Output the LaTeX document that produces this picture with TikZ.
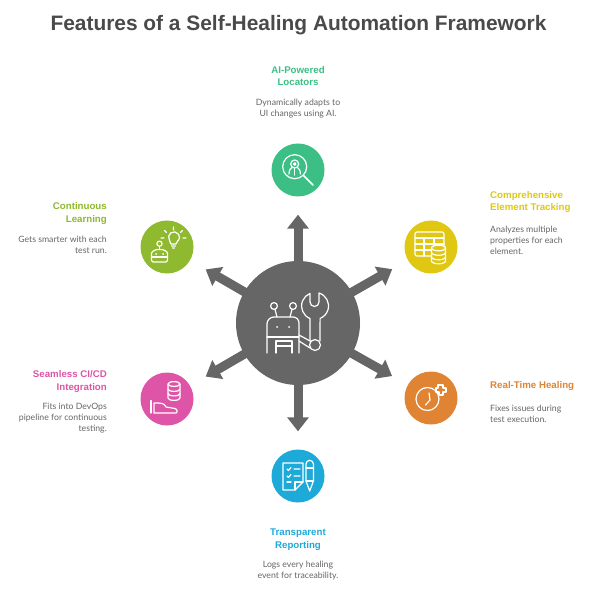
\documentclass[tikz,border=0pt]{standalone}
\usepackage{fontspec}
\setmainfont{Liberation Sans}
\newfontfamily\descfont{Lato}
\usetikzlibrary{arrows.meta}
\definecolor{hubc}{HTML}{666666}
\definecolor{titlec}{HTML}{4A4A4A}
\definecolor{descc}{HTML}{666666}
\definecolor{cgreen}{HTML}{3CBF85}
\definecolor{cyellow}{HTML}{E0C812}
\definecolor{corange}{HTML}{E08433}
\definecolor{cblue}{HTML}{1EAAD9}
\definecolor{cpink}{HTML}{DE55A8}
\definecolor{clime}{HTML}{8FB92E}
\tikzset{
  hubnode/.style={circle,fill=hubc,minimum size=124pt,inner sep=0pt},
  satnode/.style={circle,fill=#1,minimum size=53pt,inner sep=0pt},
  spoke/.style={hubc,line width=9pt,shorten >=18pt,-{Triangle[width=21pt,length=14pt]}},
  head/.style={font=\fontsize{9.7}{12.6}\selectfont\bfseries,inner sep=0pt,text=#1},
  desc/.style={font=\descfont\fontsize{8.7}{11}\selectfont,inner sep=0pt,text=descc},
  icon/.style={white,line width=1.2pt,line cap=round,line join=round},
}
\begin{document}
\begin{tikzpicture}[x=1pt,y=1pt]
\useasboundingbox (0,0) rectangle (593,592);
\fill[white] (0,0) rectangle (593,592);
\node[font=\fontsize{20.9}{26}\selectfont\bfseries,text=titlec,inner sep=0pt] (title) at (298.5,567) {Features of a Self-Healing Automation Framework};
% satellites
\node[satnode=cgreen] (top) at (298,422) {};
\node[satnode=cyellow] (ur) at (431,345) {};
\node[satnode=corange] (lr) at (431,194) {};
\node[satnode=cblue] (bot) at (298,116) {};
\node[satnode=cpink] (ll) at (167,193) {};
\node[satnode=clime] (ul) at (167,345) {};
\coordinate (hc) at (298,269);
\foreach \s in {top,ur,lr,bot,ll,ul} \draw[spoke] (hc) -- (\s);
\node[hubnode] (hub) at (hc) {};
% hub icon
\begin{scope}[shift={(hc)},icon]
  \draw (-31,-30) -- (-31,-1) arc[start angle=180,end angle=90,radius=7] -- (-5,6) arc[start angle=90,end angle=0,radius=6] -- (1,-30);
  \draw (-31,-14) -- (1,-14);
  \draw (-22,-30) -- (-22,-18) -- (-6,-18) -- (-6,-30) (-22,-23) -- (-6,-23);
  \draw (-24,17) circle[radius=3.4] (-5,17) circle[radius=3.4];
  \draw (-23,13.6) -- (-21,6) (-6,13.6) -- (-8,6);
  \fill (-21,-4) circle[radius=1] (-9,-4) circle[radius=1];
  \draw (1,-12) -- (13,-18.5) (1,-18) -- (12,-25);
  \draw (17,-22) circle[radius=5.5];
  \draw (12,-18) -- (12,4.5) arc[start angle=248,end angle=112,radius=13.5] -- (12,21) arc[start angle=180,end angle=360,radius=4.5] -- (21,30) arc[start angle=73,end angle=-68,radius=13.5] -- (22,-18);
\end{scope}
% AI locators icon
\begin{scope}[shift={(top)},icon]
  \draw (-3.3,3.3) circle[radius=12];
  \draw[line width=1.6pt] (5.3,-5.3) -- (15,-15);
  \draw (-3.3,6) circle[radius=4] (-3.3,6) circle[radius=1.3];
  \draw (-6,2.5) .. controls (-9,0) and (-9,-2) .. (-9,-4);
  \draw (-0.6,2.5) .. controls (2.4,0) and (2.4,-2) .. (2.4,-4);
  \draw (-3.3,2) -- (-3.3,-5);
\end{scope}
% table icon
\begin{scope}[shift={(ur)},icon]
  \draw[rounded corners=2pt] (-16,15) rectangle (13,-9);
  \draw (-16,9) -- (13,9) (-16,3) -- (13,3) (-16,-3) -- (13,-3);
  \draw (-7,9) -- (-7,-9) (3,9) -- (3,-9);
  \draw[fill=cyellow] (0.5,-1) -- (0.5,-14) arc[start angle=180,end angle=360,x radius=7,y radius=2.8] -- (14.5,-1) arc[start angle=0,end angle=180,x radius=7,y radius=2.8] -- cycle;
  \draw (0.5,-1) arc[start angle=180,end angle=360,x radius=7,y radius=2.8];
  \draw (0.5,-5.5) arc[start angle=180,end angle=360,x radius=7,y radius=2.8];
  \draw (0.5,-10) arc[start angle=180,end angle=360,x radius=7,y radius=2.8];
\end{scope}
% clock icon
\begin{scope}[shift={(lr)},icon]
  \draw (-3.5,-1) circle[radius=11.5];
  \draw (-2,5) -- (-1,-2) -- (-5.5,-7);
  \draw[fill=corange] (7,13) -- (12,13) -- (12,10) -- (15,10) -- (15,6) -- (12,6) -- (12,3) -- (8,3) -- (8,6) -- (5,6) -- (5,10) -- (7,10) -- cycle;
\end{scope}
% report icon
\begin{scope}[shift={(bot)},icon]
  \draw (-15,13) -- (5,13) -- (5,-6) -- (-3,-14) -- (-15,-14) -- cycle;
  \draw (5,-6) -- (-3,-6) -- (-3,-14);
  \draw (-11,7) -- (-9.5,5.5) -- (-7,8.5) (-4,7) -- (2,7);
  \draw (-11,0) -- (-9.5,-1.5) -- (-7,1.5) (-4,0) -- (2,0);
  \draw (-11,-6) -- (-7,-6);
  \draw (8,-5) -- (8,12) arc[start angle=180,end angle=0,radius=3.7] -- (15.4,-5) -- (11.7,-15) -- cycle;
  \draw (8,8) -- (15.4,8) (8,-5) -- (15.4,-5);
\end{scope}
% database + hand icon
\begin{scope}[shift={(ll)},icon]
  \draw (1,15) -- (1,1) arc[start angle=180,end angle=360,x radius=6,y radius=2.4] -- (13,15) arc[start angle=0,end angle=180,x radius=6,y radius=2.4] ;
  \draw (1,15) arc[start angle=180,end angle=360,x radius=6,y radius=2.4];
  \draw (1,10) arc[start angle=180,end angle=360,x radius=6,y radius=2.4];
  \draw (1,5.5) arc[start angle=180,end angle=360,x radius=6,y radius=2.4];
  \draw (-16,-1.5) -- (-16,-14);
  \draw (-13,-14) -- (9,-14) .. controls (10.5,-14) and (10.5,-10) .. (8,-9.5) -- (-1,-8) .. controls (-3,-4) and (-5,-4) .. (-13,-4) -- cycle;
\end{scope}
% learning icon
\begin{scope}[shift={(ul)},icon]
  \draw (2.5,6.5) arc[start angle=215,end angle=-35,radius=5.5];
  \draw (2.5,6.5) -- (4,3) -- (9,3) -- (10.9,6.5) (4.5,1) -- (8.5,1) (5.5,-1) -- (7.5,-1);
  \draw (6.5,17) -- (6.5,20) (-0.5,14.5) -- (-2.5,16.5) (13.5,14.5) -- (15.5,16.5) (-3,9) -- (-6,9) (16,9) -- (19,9);
  \draw (-7.5,3.3) circle[radius=2.6];
  \draw (-7.5,0.7) -- (-7.5,-2.5);
  \draw[rounded corners=1.5pt] (-15.5,-15) -- (-15.5,-8) .. controls (-15.5,-4) and (-11,-2.5) .. (-7.5,-2.5) .. controls (-4,-2.5) and (0.5,-4) .. (0.5,-8) -- (0.5,-15) -- cycle;
  \draw (-15.5,-10) -- (0.5,-10);
  \fill (-11,-7) circle[radius=1] (-4,-7) circle[radius=1];
\end{scope}
% labels
\node[head=cgreen,align=center] (h1) at (298,516) {AI-Powered\\Locators};
\node[desc,align=center] (d1) at (298,483.5) {Dynamically adapts to\\UI changes using AI.};
\node[head=cyellow,align=left,anchor=west] (h2) at (490,390) {Comprehensive\\Element Tracking};
\node[desc,align=left,anchor=west] (d2) at (490,352) {Analyzes multiple\\properties for each\\element.};
\node[head=corange,align=left,anchor=west] (h3) at (490,205.5) {Real-Time Healing};
\node[desc,align=left,anchor=west] (d3) at (490,178.5) {Fixes issues during\\test execution.};
\node[head=cblue,align=center] (h4) at (298,52.5) {Transparent\\Reporting};
\node[desc,align=center] (d4) at (298,21) {Logs every healing\\event for traceability.};
\node[head=cpink,align=right,anchor=east] (h5) at (107,210.5) {Seamless CI/CD\\Integration};
\node[desc,align=right,anchor=east] (d5) at (107,174) {Fits into DevOps\\pipeline for continuous\\testing.};
\node[head=clime,align=right,anchor=east] (h6) at (107,378.5) {Continuous\\Learning};
\node[desc,align=right,anchor=east] (d6) at (107,347.5) {Gets smarter with each\\test run.};
\end{tikzpicture}
\end{document}
